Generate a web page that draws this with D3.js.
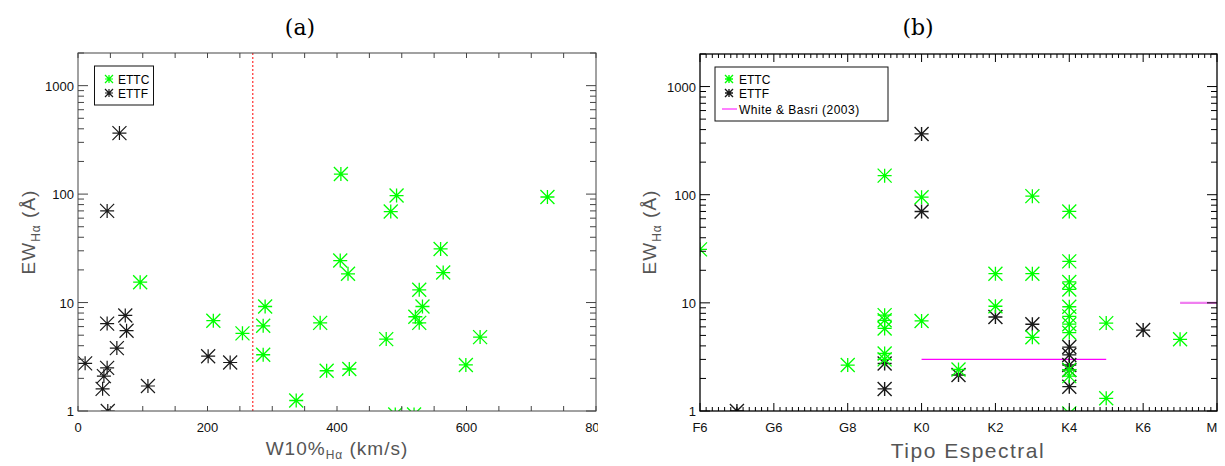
<!DOCTYPE html>
<html>
<head>
    <script src="https://cdn.jsdelivr.net/npm/d3@7"></script>
    <style>
        body { margin: 0; background: white; }
        #my-svg { width: 1225px; height: 466px; display: block; }
        text { font-family: "Liberation Sans", "DejaVu Sans", sans-serif; }
    </style>
</head>
<body>

<svg id="my-svg"></svg>

<script>
    // panel (a): EW(Halpha) vs W10%(Halpha)
    const ettcW10 = [96, 209, 254, 289, 286, 286, 337, 374, 384, 406, 492, 483, 725, 405, 417, 560, 564, 527, 532, 521, 527, 476, 621, 599, 419, 490, 519];
    const ettcEWa = [15.4, 6.8, 5.2, 9.2, 6.1, 3.3, 1.25, 6.5, 2.35, 153, 97, 69, 94, 24.4, 18.4, 31.2, 18.9, 13.1, 9.2, 7.4, 6.5, 4.6, 4.8, 2.66, 2.44, 0.93, 0.93];
    const ettfW10 = [64, 45, 45, 73, 75, 60, 11, 45, 40, 38, 46, 108, 201, 235];
    const ettfEWa = [365, 70, 6.4, 7.6, 5.5, 3.8, 2.75, 2.5, 2.1, 1.6, 1.0, 1.7, 3.2, 2.8];
    const w10Limit = 270;

    // panel (b): EW(Halpha) vs spectral type (position in tick units)
    const spTicks = ["F6", "G6", "G8", "K0", "K2", "K4", "K6", "M"];
    const ettcSpT = [0, 2, 2.5, 2.5, 2.5, 2.5, 2.5, 2.5, 3, 3, 3.5, 4, 4, 4.5, 4.5, 4.5,
                     5, 5, 5, 5, 5, 5, 5, 5, 5, 5, 5, 5.5, 5.5, 6.5];
    const ettcEWb = [31.2, 2.66, 150, 7.7, 6.9, 5.8, 3.4, 3.0, 94.8, 6.8, 2.42, 18.6, 9.3, 97, 18.6, 4.8,
                     70, 24.2, 15.6, 13.3, 9.2, 7.5, 6.35, 5.3, 2.4, 2.1, 0.95, 6.5, 1.31, 4.6];
    const ettfSpT = [0.5, 2.5, 2.5, 3, 3, 3.5, 4, 4.5, 5, 5, 5, 5, 5, 6];
    const ettfEWb = [1.0, 2.75, 1.6, 365, 70, 2.15, 7.4, 6.35, 3.9, 3.3, 2.66, 2.4, 1.68, 5.6];
    // White & Basri (2003) limits
    const wbFrom = [3, 6.5];
    const wbTo = [5.5, 7];
    const wbEW = [3, 10];

    const green = "#00ff00";
    const black = "#1a1a1a";

    let svg = d3.select("#my-svg");
    let defs = svg.append("defs");

    // asterisk marker (IDL psym=2 style)
    function star(g, x, y, r, color, w) {
        let d = `M${x - r},${y}H${x + r}M${x},${y - r}V${y + r}` +
                `M${x - r},${y - r}L${x + r},${y + r}M${x - r},${y + r}L${x + r},${y - r}`;
        g.append("path").attr("d", d).attr("stroke", color)
            .attr("stroke-width", w).attr("fill", "none");
    }

    function logTicks(y, g, x0, x1, lenMaj, lenMin, color) {
        const [lo, hi] = y.domain();
        for (let e = 0; e <= 3; e++) {
            for (let m = 1; m <= 9; m++) {
                let v = m * Math.pow(10, e);
                if (v < lo || v > hi) continue;
                let len = m === 1 ? lenMaj : lenMin;
                g.append("line").attr("x1", x0).attr("x2", x0 + len)
                    .attr("y1", y(v)).attr("y2", y(v)).attr("stroke", color);
                g.append("line").attr("x1", x1).attr("x2", x1 - len)
                    .attr("y1", y(v)).attr("y2", y(v)).attr("stroke", color);
            }
        }
        [1, 10, 100, 1000].forEach(v => {
            g.append("text").attr("x", x0 - 4).attr("y", y(v) + 5)
                .attr("text-anchor", "end").attr("font-size", 13)
                .attr("fill", "#111").text(v);
        });
    }

    function yTitle(g, x, y) {
        let t = g.append("text").attr("transform", `translate(${x},${y}) rotate(-90)`)
            .attr("text-anchor", "middle").attr("font-size", 19).attr("fill", "#555")
            .attr("letter-spacing", 1);
        t.append("tspan").text("EW");
        t.append("tspan").attr("font-size", 12).attr("dy", 5).text("Hα");
        t.append("tspan").attr("dy", -5).text(" (Å)");
    }

    // ---------------- panel (a) ----------------
    defs.append("clipPath").attr("id", "clipA").append("rect")
        .attr("x", 0).attr("y", 0).attr("width", 598).attr("height", 466);
    let pa = svg.append("g").attr("clip-path", "url(#clipA)");

    let xa = d3.scaleLinear().domain([0, 800]).range([78, 596]);
    let ya = d3.scaleLog().domain([1, 2000]).range([411, 53]);

    defs.append("clipPath").attr("id", "plotA").append("rect")
        .attr("x", 78).attr("y", 53).attr("width", 518).attr("height", 358);

    let ga = pa.append("g").attr("clip-path", "url(#plotA)");
    ga.append("line").attr("x1", xa(w10Limit)).attr("x2", xa(w10Limit))
        .attr("y1", ya(2000)).attr("y2", ya(1))
        .attr("stroke", "#ff0000").attr("stroke-dasharray", "2,2");
    ettfW10.forEach((v, i) => star(ga, xa(v), ya(ettfEWa[i]), 7, black, 1.2));
    ettcW10.forEach((v, i) => star(ga, xa(v), ya(ettcEWa[i]), 7, green, 1.3));

    pa.append("rect").attr("x", 78).attr("y", 53).attr("width", 518).attr("height", 358)
        .attr("fill", "none").attr("stroke", "#444");
    d3.range(0, 801, 50).forEach(v => {
        pa.append("line").attr("x1", xa(v)).attr("x2", xa(v)).attr("y1", 411).attr("y2", 406).attr("stroke", "#444");
        pa.append("line").attr("x1", xa(v)).attr("x2", xa(v)).attr("y1", 53).attr("y2", 58).attr("stroke", "#444");
    });
    d3.range(0, 801, 200).forEach(v => {
        pa.append("text").attr("x", xa(v)).attr("y", 432).attr("text-anchor", "middle")
            .attr("font-size", 13).attr("fill", "#111").text(v);
    });
    logTicks(ya, pa, 78, 596, 10, 6, "#444");

    pa.append("text").attr("x", 300).attr("y", 35).attr("text-anchor", "middle")
        .style("font-family", "'DejaVu Serif', 'Liberation Serif', serif").attr("font-size", 22).text("(a)");
    yTitle(pa, 35, 232);
    let xt = pa.append("text").attr("x", 337).attr("y", 455).attr("text-anchor", "middle")
        .attr("font-size", 19).attr("fill", "#555").attr("letter-spacing", 1);
    xt.append("tspan").text("W10%");
    xt.append("tspan").attr("font-size", 12).attr("dy", 4).text("Hα");
    xt.append("tspan").attr("dy", -4).text(" (km/s)");

    // legend (a)
    pa.append("rect").attr("x", 94.5).attr("y", 66).attr("width", 59).attr("height", 39)
        .attr("fill", "white").attr("stroke", "#111");
    star(pa, 109, 79, 4, green, 1.2);
    star(pa, 109, 93, 4, black, 1.2);
    pa.append("text").attr("x", 118).attr("y", 83.5).attr("font-size", 12).text("ETTC");
    pa.append("text").attr("x", 118).attr("y", 97.5).attr("font-size", 12).text("ETTF");

    // ---------------- panel (b) ----------------
    let pb = svg.append("g");
    let xb = d3.scaleLinear().domain([0, 7]).range([700, 1217]);
    let yb = d3.scaleLog().domain([1, 2000]).range([411, 54]);

    defs.append("clipPath").attr("id", "plotB").append("rect")
        .attr("x", 700).attr("y", 54).attr("width", 517).attr("height", 357);
    let gb = pb.append("g").attr("clip-path", "url(#plotB)");

    wbFrom.forEach((v, i) => {
        gb.append("line").attr("x1", xb(v)).attr("x2", xb(wbTo[i]))
            .attr("y1", yb(wbEW[i])).attr("y2", yb(wbEW[i]))
            .attr("stroke", i === 0 ? "#ff00ff" : "#f07ef0")
            .attr("stroke-width", i === 0 ? 1.2 : 2.2);
    });
    ettfSpT.forEach((v, i) => star(gb, xb(v), yb(ettfEWb[i]), 7, black, 1.4));
    ettcSpT.forEach((v, i) => star(gb, xb(v), yb(ettcEWb[i]), 7, green, 1.3));

    pb.append("rect").attr("x", 700).attr("y", 54).attr("width", 517).attr("height", 357)
        .attr("fill", "none").attr("stroke", "#000").attr("stroke-width", 1.3);
    d3.range(0, 7 * 12 + 1).forEach(k => {
        let v = k / 12;
        let len = k % 12 === 0 ? 8 : 4;
        pb.append("line").attr("x1", xb(v)).attr("x2", xb(v)).attr("y1", 411).attr("y2", 411 - len).attr("stroke", "#000");
        pb.append("line").attr("x1", xb(v)).attr("x2", xb(v)).attr("y1", 54).attr("y2", 54 + len).attr("stroke", "#000");
    });
    spTicks.forEach((s, i) => {
        pb.append("text").attr("x", i === 7 ? xb(i) - 5 : xb(i)).attr("y", 432)
            .attr("text-anchor", "middle").attr("font-size", 13).attr("fill", "#111").text(s);
    });
    logTicks(yb, pb, 700, 1217, 10, 6, "#000");

    pb.append("text").attr("x", 918).attr("y", 35).attr("text-anchor", "middle")
        .style("font-family", "'DejaVu Serif', 'Liberation Serif', serif").attr("font-size", 22).text("(b)");
    yTitle(pb, 656, 232);
    pb.append("text").attr("x", 968).attr("y", 458).attr("text-anchor", "middle")
        .attr("font-size", 21).attr("fill", "#555").attr("letter-spacing", 1.5).text("Tipo Espectral");

    // legend (b)
    pb.append("rect").attr("x", 715).attr("y", 67).attr("width", 173).attr("height", 54)
        .attr("fill", "white").attr("stroke", "#111");
    star(pb, 729, 79, 4, green, 1.4);
    star(pb, 729, 93, 4, black, 1.4);
    pb.append("line").attr("x1", 722).attr("x2", 737).attr("y1", 109).attr("y2", 109)
        .attr("stroke", "#ff00ff");
    pb.append("text").attr("x", 739).attr("y", 83.5).attr("font-size", 12).text("ETTC");
    pb.append("text").attr("x", 739).attr("y", 97.5).attr("font-size", 12).text("ETTF");
    pb.append("text").attr("x", 739).attr("y", 113.5).attr("font-size", 12)
        .attr("letter-spacing", 0.5).text("White & Basri (2003)");
</script>
</body>
</html>
